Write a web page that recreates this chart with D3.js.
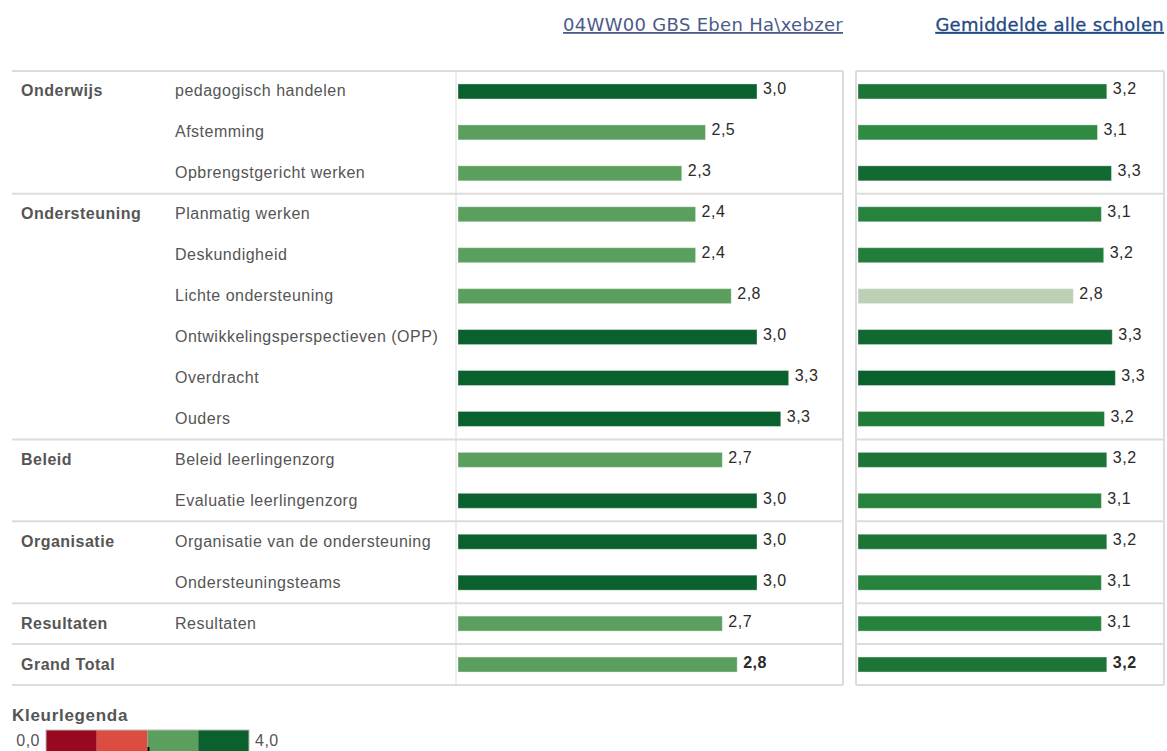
<!DOCTYPE html>
<html>
<head>
<meta charset="utf-8">
<script src="https://cdn.jsdelivr.net/npm/d3@7"></script>
<style>
  body { margin: 0; background: #fff; }
  text { font-family: "Liberation Sans", Arial, sans-serif; }
</style>
</head>
<body>
<svg id="chart"></svg>
<script>
// groups (first column) and how many indicator rows each one spans
const groupNames = ["Onderwijs", "Ondersteuning", "Beleid", "Organisatie", "Resultaten", "Grand Total"];
const groupSizes = [3, 6, 2, 2, 1, 1];

const indicators = [
  "pedagogisch handelen",
  "Afstemming",
  "Opbrengstgericht werken",
  "Planmatig werken",
  "Deskundigheid",
  "Lichte ondersteuning",
  "Ontwikkelingsperspectieven (OPP)",
  "Overdracht",
  "Ouders",
  "Beleid leerlingenzorg",
  "Evaluatie leerlingenzorg",
  "Organisatie van de ondersteuning",
  "Ondersteuningsteams",
  "Resultaten",
  ""
];

// 04WW00 GBS Eben Haëzer
const schoolScores = [3.02, 2.50, 2.26, 2.40, 2.40, 2.76, 3.02, 3.34, 3.26, 2.67, 3.02, 3.02, 3.02, 2.67, 2.82];
// Gemiddelde alle scholen
const averageScores = [3.20, 3.08, 3.26, 3.13, 3.16, 2.77, 3.27, 3.31, 3.17, 3.20, 3.13, 3.20, 3.13, 3.13, 3.20];

const headers = ["04WW00 GBS Eben Ha\\xebzer", "Gemiddelde alle scholen"];

const legendTitle = "Kleurlegenda";
const legendColors = ["#98091f", "#dc4c40", "#5a9f5e", "#0a612d"];
const legendTicks = ["0,0", "4,0"];

const width = 1167;
const height = 751;

const svg = d3.select("#chart").attr("width", width).attr("height", height);

const tableTop = 71, tableBottom = 685;
const labelText = "#555555";
const valueText = "#2b2b2b";
const gridColor = "#dcdcdc";

// one row per indicator
const y = d3
  .scaleBand()
  .domain(d3.range(indicators.length))
  .range([tableTop, tableBottom]);

const x1 = d3.scaleLinear().domain([0, 4]).range([458, 854]);
const x2 = d3.scaleLinear().domain([0, 4]).range([858, 1169]);

const stepColor = d3.scaleThreshold().domain([1, 2, 3]).range(legendColors);
const avgColor = d3
  .scaleLinear()
  .domain([2.77, 3.08, 3.31])
  .range(["#bdd0b6", "#2e8b41", "#0b612d"])
  .clamp(true);

const fmt = v => d3.format(".1f")(v).replace(".", ",");

// row index where each group starts
let starts = [];
let acc = 0;
groupSizes.forEach(n => {
  starts.push(acc);
  acc += n;
});
const bounds = starts.map(s => y(s)).concat([tableBottom]);

// grid lines
const grid = svg.append("g").attr("stroke", gridColor).attr("stroke-width", 2);
[[12, 843], [856, 1164]].forEach(seg => {
  grid
    .selectAll(null)
    .data(bounds)
    .enter()
    .append("line")
    .attr("x1", seg[0])
    .attr("x2", seg[1])
    .attr("y1", d => d)
    .attr("y2", d => d);
});
[456, 843, 856, 1164].forEach(xv => {
  grid
    .append("line")
    .attr("x1", xv)
    .attr("x2", xv)
    .attr("y1", tableTop)
    .attr("y2", tableBottom)
    .attr("stroke-width", xv === 456 ? 1 : 2);
});

// group labels
svg
  .append("g")
  .selectAll("text")
  .data(groupNames)
  .enter()
  .append("text")
  .attr("x", 21)
  .attr("y", (d, i) => y(starts[i]) + y.bandwidth() / 2 + 5)
  .attr("fill", labelText)
  .attr("font-size", "16px")
  .attr("letter-spacing", "0.5px")
  .attr("font-weight", "bold")
  .text(d => d);

// indicator labels
svg
  .append("g")
  .selectAll("text")
  .data(indicators)
  .enter()
  .append("text")
  .attr("x", 175)
  .attr("y", (d, i) => y(i) + y.bandwidth() / 2 + 5)
  .attr("fill", labelText)
  .attr("font-size", "16px")
  .attr("letter-spacing", "0.5px")
  .text(d => d);

const barH = 15;
const last = indicators.length - 1;

function drawBars(scores, xs, color) {
  let g = svg.append("g");
  g.selectAll("rect")
    .data(scores)
    .enter()
    .append("rect")
    .attr("x", xs(0))
    .attr("y", (d, i) => y(i) + y.bandwidth() / 2 - barH / 2)
    .attr("width", d => xs(d) - xs(0))
    .attr("height", barH)
    .attr("fill", d => color(d))
    .attr("stroke", "#ffffff")
    .attr("stroke-opacity", 0.35)
    .attr("stroke-width", 1);
  g.selectAll("text")
    .data(scores)
    .enter()
    .append("text")
    .attr("x", d => xs(d) + 6)
    .attr("y", (d, i) => y(i) + y.bandwidth() / 2 + 3)
    .attr("fill", valueText)
    .attr("font-size", "16px")
    .attr("letter-spacing", "0.5px")
    .attr("font-weight", (d, i) => (i === last ? "bold" : "normal"))
    .text(d => fmt(d));
}

drawBars(schoolScores, x1, stepColor);
drawBars(averageScores, x2, avgColor);

// column headers
svg
  .selectAll(".header")
  .data(headers)
  .enter()
  .append("text")
  .attr("class", "header")
  .attr("x", (d, i) => (i === 0 ? 843 : 1164))
  .attr("y", 31)
  .attr("text-anchor", "end")
  .attr("font-size", "18px")
  .attr("letter-spacing", "0.3px")
  .style("font-family", "'DejaVu Sans', Tahoma, sans-serif")
  .style("text-decoration", "underline")
  .attr("fill", (d, i) => (i === 0 ? "#4a5b88" : "#1f4a86"))
  .attr("stroke", (d, i) => (i === 0 ? "none" : "#1f4a86"))
  .attr("stroke-width", 0.3)
  .text(d => d);

// colour legend
const lx = d3.scaleLinear().domain([0, 4]).range([46, 249]);
svg
  .append("text")
  .attr("x", 12)
  .attr("y", 721)
  .attr("fill", labelText)
  .attr("font-size", "17px")
  .attr("letter-spacing", "0.7px")
  .attr("font-weight", "bold")
  .text(legendTitle);

svg
  .append("g")
  .selectAll("rect")
  .data(legendColors)
  .enter()
  .append("rect")
  .attr("x", (d, i) => lx(i))
  .attr("y", 730)
  .attr("width", (d, i) => lx(i + 1) - lx(i))
  .attr("height", 24)
  .attr("fill", d => d);

svg
  .append("rect")
  .attr("x", lx(0))
  .attr("y", 730)
  .attr("width", lx(4) - lx(0))
  .attr("height", 24)
  .attr("fill", "none")
  .attr("stroke", "#bbbbbb")
  .attr("stroke-width", 1);

svg
  .append("line")
  .attr("x1", lx(2) + 1)
  .attr("x2", lx(2) + 1)
  .attr("y1", 747)
  .attr("y2", 751)
  .attr("stroke", "#000")
  .attr("stroke-width", 2);

svg
  .selectAll(".ltick")
  .data(legendTicks)
  .enter()
  .append("text")
  .attr("class", "ltick")
  .attr("x", (d, i) => (i === 0 ? 40 : 255))
  .attr("y", 746)
  .attr("text-anchor", (d, i) => (i === 0 ? "end" : "start"))
  .attr("fill", labelText)
  .attr("font-size", "16px")
  .attr("letter-spacing", "0.5px")
  .text(d => d);
</script>
</body>
</html>
